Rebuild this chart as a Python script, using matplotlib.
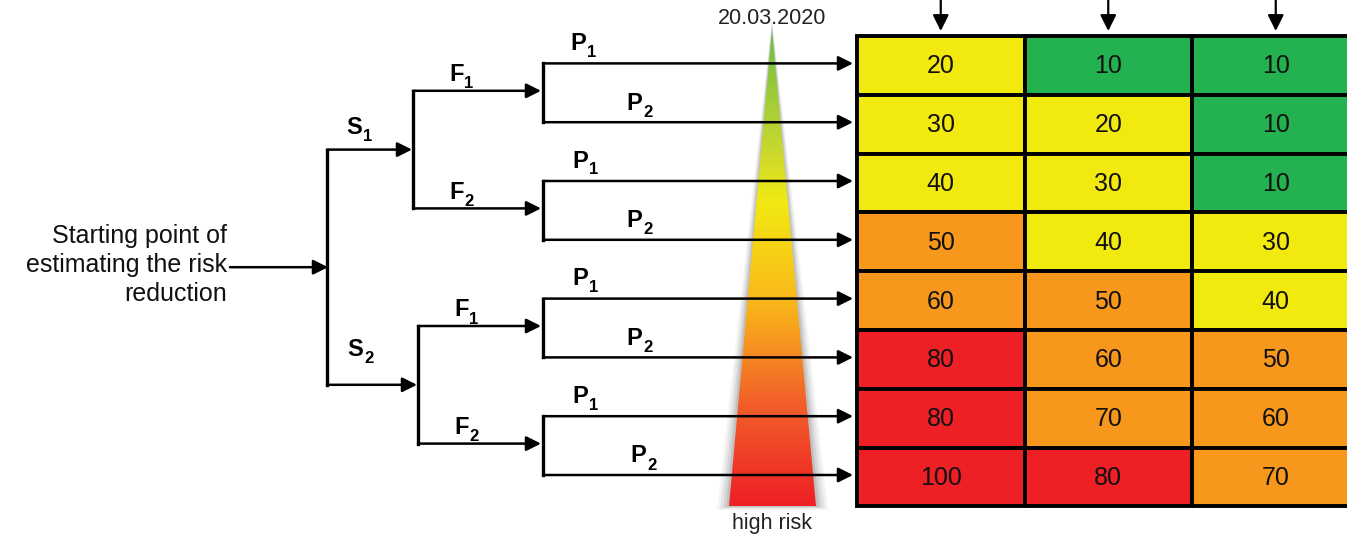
import numpy as np
import matplotlib.pyplot as plt
from matplotlib.patches import Polygon, Rectangle
from matplotlib.colors import LinearSegmentedColormap

plt.rcParams['font.family'] = ['Liberation Sans', 'DejaVu Sans']

# risk matrix values (rows top -> bottom, three columns)
risk_values = [
    [20, 10, 10],
    [30, 20, 10],
    [40, 30, 10],
    [50, 40, 30],
    [60, 50, 40],
    [80, 60, 50],
    [80, 70, 60],
    [100, 80, 70],
]
s_labels = ['1', '2']
f_labels = ['1', '2', '1', '2']
p_labels = ['1', '2'] * 4
start_text = "Starting point of\nestimating the risk\nreduction"
date_text = "20.03.2020"
bottom_text = "high risk"

GREEN, YELLOW, ORANGE, RED = '#23b24f', '#f2e90f', '#f7981d', '#ee1f25'


def cell_colour(v):
    if v <= 10:
        return GREEN
    if v <= 40:
        return YELLOW
    if v <= 70:
        return ORANGE
    return RED


fig = plt.figure(figsize=(13.47, 5.37), dpi=100)
ax = fig.add_axes([0, 0, 1, 1])
ax.set_xlim(0, 1347)
ax.set_ylim(537, 0)
ax.axis('off')

# table geometry
x0, y0, cw, rh = 857, 36, 167.5, 58.8
ncol = len(risk_values[0])


def yc(i):
    return y0 + (i + 0.5) * rh


for i, row in enumerate(risk_values):
    for j, v in enumerate(row):
        ax.add_patch(Rectangle((x0 + j * cw, y0 + i * rh), cw, rh,
                               fc=cell_colour(v), ec='black', lw=2.8, zorder=3))
        ax.text(x0 + (j + 0.5) * cw, yc(i) + 1, str(v), ha='center', va='center',
                fontsize=18, color='#111111', zorder=4)

# arrows pointing down into the columns
for j in range(ncol):
    cx = x0 + (j + 0.5) * cw
    ax.annotate('', xy=(cx, 31), xytext=(cx, -2),
                arrowprops=dict(arrowstyle='-|>', color='black', lw=1.6,
                                mutation_scale=24, shrinkA=0, shrinkB=0), zorder=5)


def arrow(x1, x2, y):
    ax.annotate('', xy=(x2, y), xytext=(x1, y),
                arrowprops=dict(arrowstyle='-|>', color='black', lw=1.8,
                                mutation_scale=22, shrinkA=0, shrinkB=0), zorder=5)


def vline(x, ya, yb):
    ax.plot([x, x], [ya, yb], color='black', lw=2.4, zorder=5, solid_capstyle='projecting')


SUB_DX = {'S': 17, 'F': 15, 'P': 17}


def label(x, y, main, sub):
    ax.text(x, y, main, fontsize=17, fontweight='bold', ha='left', va='center', zorder=6)
    ax.text(x + SUB_DX[main], y + 9, sub, fontsize=12, fontweight='bold', ha='left',
            va='center', zorder=6)


# gradient triangle with soft gray glow
tri_x = [772, 729, 816]
tri_y = [30, 506, 506]
for k, a in [(12, 0.07), (9, 0.1), (6, 0.14), (3, 0.2)]:
    ax.add_patch(Polygon([(772, 30 - k), (729 - k, 506 + k * 0.3), (816 + k, 506 + k * 0.3)],
                         closed=True, fc='#707070', ec='none', alpha=a, zorder=1))
cmap = LinearSegmentedColormap.from_list('risk', [
    (0.0, '#6cbd45'), (0.25, '#c8d82e'), (0.36, '#f2e912'),
    (0.58, '#f9b51a'), (0.78, '#f2612a'), (1.0, '#ee2025')])
grad = np.linspace(0, 1, 256).reshape(-1, 1)
im = ax.imshow(grad, cmap=cmap, extent=[729, 816, 506, 30], aspect='auto', zorder=2)
tri = Polygon(list(zip(tri_x, tri_y)), closed=True, fc='none', ec='none', transform=ax.transData)
ax.add_patch(tri)
im.set_clip_path(tri)
ax.set_xlim(0, 1347)
ax.set_ylim(537, 0)

ax.text(772, 18, date_text, fontsize=15.5, ha='center', va='center', color='#222222')
ax.text(772, 523, bottom_text, fontsize=15.5, ha='center', va='center', color='#222222')

# decision tree
tip = 853
for k in range(4):
    ya, yb = yc(2 * k) - 2, yc(2 * k + 1) - 2
    vline(543, ya, yb)
    arrow(543, tip, ya)
    arrow(543, tip, yb)
    label(570 if k == 0 else 572, ya - 20, 'P', p_labels[2 * k])
    label(626 if k < 3 else 630, yb - 19, 'P', p_labels[2 * k + 1])

f_x = [413, 413, 418, 418]
f_y = [(yc(2 * k) + yc(2 * k + 1)) / 2 - 4 for k in range(4)]
for k in range(4):
    arrow(f_x[k], 541, f_y[k])
    label(f_x[k] + 36, f_y[k] - 16, 'F', f_labels[k])

s_y = []
for g in range(2):
    ya, yb = f_y[2 * g], f_y[2 * g + 1]
    vline(f_x[2 * g], ya, yb)
    s_y.append((ya + yb) / 2)
    arrow(327, f_x[2 * g] - 1, s_y[-1])
    label(346 if g == 0 else 347, s_y[-1] - 22 - (0 if g == 0 else 13), 'S', s_labels[g])

vline(327, s_y[0], s_y[1])
mid = (s_y[0] + s_y[1]) / 2
arrow(230, 328, mid)
ax.text(227, mid - 2, start_text, fontsize=18, ha='right', va='center',
        linespacing=1.25, color='#111111')

fig.savefig('out.png', dpi=100)
